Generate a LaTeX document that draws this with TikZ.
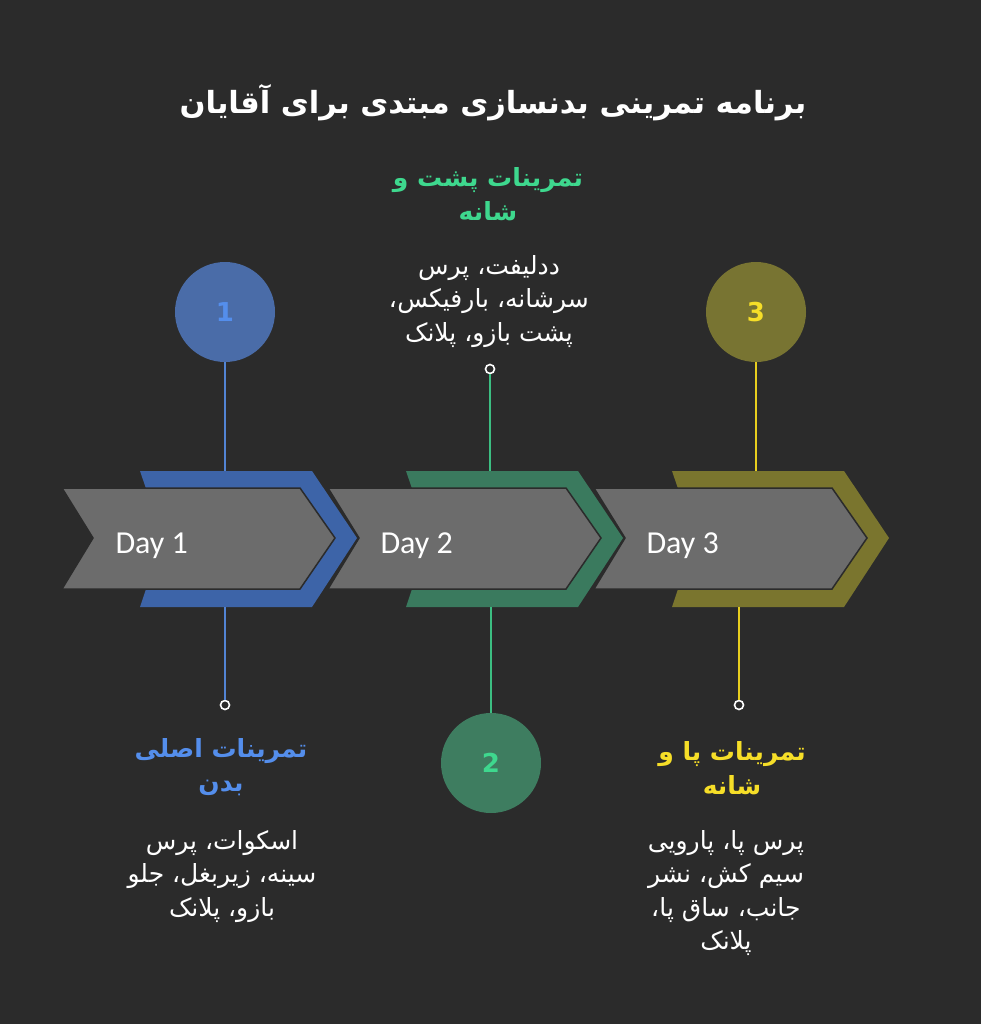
\documentclass[tikz,border=0pt]{standalone}
\usepackage{fontspec}
\usetikzlibrary{positioning}
\TeXXeTstate=1
\newfontfamily\arabicfont[Script=Arabic]{DejaVu Sans}
\newfontfamily\dayfont{Carlito}
\newcommand{\rl}[1]{\beginR#1\endR}

\definecolor{bgdark}{RGB}{43,43,43}
\definecolor{chevgray}{RGB}{108,108,108}
\definecolor{blueband}{RGB}{61,100,168}
\definecolor{bluecirc}{RGB}{74,108,168}
\definecolor{blueline}{RGB}{82,132,212}
\definecolor{bluetext}{RGB}{84,142,236}
\definecolor{greenband}{RGB}{58,122,94}
\definecolor{greencirc}{RGB}{62,125,96}
\definecolor{greenline}{RGB}{60,190,130}
\definecolor{greentext}{RGB}{62,216,142}
\definecolor{oliveband}{RGB}{122,117,46}
\definecolor{olivecirc}{RGB}{120,116,50}
\definecolor{oliveline}{RGB}{232,206,30}
\definecolor{olivetext}{RGB}{246,222,40}

\tikzset{
  num/.style={circle, minimum size=100pt, inner sep=0pt,
    font=\arabicfont\bfseries\fontsize{26}{28}\selectfont},
  pin/.style={circle, draw=white, fill=bgdark, line width=1.6pt,
    minimum size=9pt, inner sep=0pt},
  stem/.style={line width=2.5pt},
  chev/.style={fill=chevgray, draw=bgdark, line width=1.5pt},
  daytitle/.style={align=center, font=\arabicfont\bfseries\fontsize{25}{34}\selectfont},
  bodyline/.style={text=white, inner sep=0pt, text height=21pt, text depth=12pt,
    font=\arabicfont\fontsize{25}{33}\selectfont},
  daylabel/.style={anchor=base west, text=white, font=\dayfont\fontsize{32}{34}\selectfont},
}

\begin{document}
\begin{tikzpicture}[x=1pt, y=-1pt]
    \fill[bgdark] (0,0) rectangle (981,1024);

    % title
    \node[text=white, font=\arabicfont\bfseries\fontsize{30.5}{34}\selectfont] (title) at (493,103)
      {\rl{برنامه تمرینی بدنسازی مبتدی برای آقایان}};

    % chevrons, right one first
    \fill[oliveband] (672,471) -- (844,471) -- (889,538) -- (844,607) -- (672,607) -- (695,538) -- cycle;
    \draw[chev] (594,488) -- (832,488) -- (867,538) -- (832,589) -- (594,589) -- (625,538) -- cycle;
    \fill[greenband] (406,471) -- (578,471) -- (623,538) -- (578,607) -- (406,607) -- (429,538) -- cycle;
    \draw[chev] (328,488) -- (566,488) -- (601,538) -- (566,589) -- (328,589) -- (359,538) -- cycle;
    \fill[blueband] (140,471) -- (312,471) -- (357,538) -- (312,607) -- (140,607) -- (163,538) -- cycle;
    \draw[chev] (62,488) -- (300,488) -- (335,538) -- (300,589) -- (62,589) -- (93,538) -- cycle;

    \node[daylabel] (day1) at (112,553) {Day 1};
    \node[daylabel] (day2) at (377,553) {Day 2};
    \node[daylabel] (day3) at (643,553) {Day 3};

    % band ends of the stems
    \coordinate (b1top) at (225,471);
    \coordinate (b1bot) at (225,607);
    \coordinate (b2top) at (490,471);
    \coordinate (b2bot) at (491,607);
    \coordinate (b3top) at (756,471);
    \coordinate (b3bot) at (739,607);

    % day 1
    \node[num, fill=bluecirc, text=bluetext] (c1) at (225,312) {1};
    \node[pin] (d1) at (225,705) {};
    \draw[stem, blueline] (c1) -- (b1top);
    \draw[stem, blueline] (b1bot) -- (d1);
    \node[daytitle, text=bluetext] (t1) at (221,767) {\rl{تمرینات اصلی}\\\rl{بدن}};
    \node[bodyline] (s1a) at (222,845) {\rl{اسکوات، پرس}};
    \node[bodyline, below=0pt of s1a] (s1b) {\rl{سینه، زیربغل، جلو}};
    \node[bodyline, below=0pt of s1b] (s1c) {\rl{بازو، پلانک}};

    % day 2
    \node[pin] (d2) at (490,369) {};
    \node[num, fill=greencirc, text=greentext] (c2) at (491,763) {2};
    \draw[stem, greenline] (d2) -- (b2top);
    \draw[stem, greenline] (b2bot) -- (c2);
    \node[daytitle, text=greentext] (t2) at (488,194) {\rl{تمرینات پشت و}\\\rl{شانه}};
    \node[bodyline] (s2a) at (489,270) {\rl{ددلیفت، پرس}};
    \node[bodyline, below=0pt of s2a, xshift=4pt] (s2b) {\rl{سرشانه، بارفیکس}};
    \node[bodyline, left=0pt of s2b] (k2) {،};
    \node[bodyline, below=0pt of s2b, xshift=-4pt] (s2c) {\rl{پشت بازو، پلانک}};

    % day 3
    \node[num, fill=olivecirc, text=olivetext] (c3) at (756,312) {3};
    \node[pin] (d3) at (739,705) {};
    \draw[stem, oliveline] (c3) -- (b3top);
    \draw[stem, oliveline] (b3bot) -- (d3);
    \node[daytitle, text=olivetext] (t3) at (732,768) {\rl{تمرینات پا و}\\\rl{شانه}};
    \node[bodyline] (s3a) at (726,845) {\rl{پرس پا، پارویی}};
    \node[bodyline, below=0pt of s3a] (s3b) {\rl{سیم کش، نشر}};
    \node[bodyline, below=0pt of s3b, xshift=4pt] (s3c) {\rl{جانب، ساق پا}};
    \node[bodyline, left=0pt of s3c] (k3) {،};
    \node[bodyline, below=0pt of s3c, xshift=-4pt] (s3d) {\rl{پلانک}};
\end{tikzpicture}
\end{document}
